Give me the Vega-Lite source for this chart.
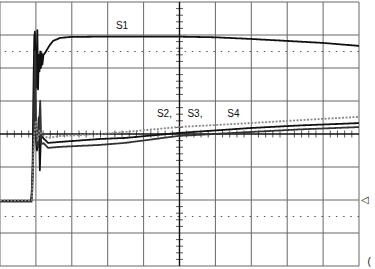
{
  "$schema": "https://vega.github.io/schema/vega-lite/v6.json",
  "width": 359,
  "height": 264,
  "autosize": {"type": "none"},
  "padding": {"left": 0, "top": 2, "right": 16, "bottom": 3},
  "background": "white",
  "view": {"stroke": null},
  "datasets": {
    "gridx": [{"v": 0}, {"v": 1}, {"v": 2}, {"v": 3}, {"v": 4}, {"v": 6}, {"v": 7}, {"v": 8}, {"v": 9}, {"v": 10}],
    "gridy": [{"v": 0}, {"v": 1}, {"v": 2}, {"v": 3}, {"v": 5}, {"v": 6}, {"v": 7}, {"v": 8}],
    "dots": [{"v": 1.5}, {"v": 6.5}],
    "ticksx": [{"v":0.2},{"v":0.4},{"v":0.6},{"v":0.8},{"v":1.2},{"v":1.4},{"v":1.6},{"v":1.8},{"v":2.2},{"v":2.4},{"v":2.6},{"v":2.8},{"v":3.2},{"v":3.4},{"v":3.6},{"v":3.8},{"v":4.2},{"v":4.4},{"v":4.6},{"v":4.8},{"v":5.2},{"v":5.4},{"v":5.6},{"v":5.8},{"v":6.2},{"v":6.4},{"v":6.6},{"v":6.8},{"v":7.2},{"v":7.4},{"v":7.6},{"v":7.8},{"v":8.2},{"v":8.4},{"v":8.6},{"v":8.8},{"v":9.2},{"v":9.4},{"v":9.6},{"v":9.8}],
    "ticksy": [{"v":0.2},{"v":0.4},{"v":0.6},{"v":0.8},{"v":1.2},{"v":1.4},{"v":1.6},{"v":1.8},{"v":2.2},{"v":2.4},{"v":2.6},{"v":2.8},{"v":3.2},{"v":3.4},{"v":3.6},{"v":3.8},{"v":4.2},{"v":4.4},{"v":4.6},{"v":4.8},{"v":5.2},{"v":5.4},{"v":5.6},{"v":5.8},{"v":6.2},{"v":6.4},{"v":6.6},{"v":6.8},{"v":7.2},{"v":7.4},{"v":7.6},{"v":7.8}],
    "traces": [
      {"s":"S1","x":0,"y":1.97},{"s":"S1","x":0.87,"y":1.97},{"s":"S1","x":0.9,"y":2.3},{"s":"S1","x":0.94,"y":6.0},{"s":"S1","x":0.97,"y":7.1},{"s":"S1","x":0.99,"y":6.2},{"s":"S1","x":1.01,"y":5.4},{"s":"S1","x":1.04,"y":7.15},{"s":"S1","x":1.06,"y":5.35},{"s":"S1","x":1.08,"y":6.4},{"s":"S1","x":1.1,"y":5.9},{"s":"S1","x":1.12,"y":6.5},{"s":"S1","x":1.14,"y":6.0},{"s":"S1","x":1.16,"y":6.45},{"s":"S1","x":1.18,"y":6.1},{"s":"S1","x":1.21,"y":6.4},{"s":"S1","x":1.25,"y":6.45},{"s":"S1","x":1.39,"y":6.7},{"s":"S1","x":1.48,"y":6.82},{"s":"S1","x":1.67,"y":6.91},{"s":"S1","x":1.95,"y":6.94},{"s":"S1","x":2.7,"y":6.95},{"s":"S1","x":5,"y":6.95},{"s":"S1","x":6,"y":6.93},{"s":"S1","x":7,"y":6.88},{"s":"S1","x":8,"y":6.82},{"s":"S1","x":9,"y":6.76},{"s":"S1","x":10,"y":6.67},
      {"s":"S2","x":0,"y":1.97},{"s":"S2","x":0.87,"y":1.97},{"s":"S2","x":0.92,"y":3.0},{"s":"S2","x":0.96,"y":7.0},{"s":"S2","x":0.99,"y":4.0},{"s":"S2","x":1.03,"y":3.5},{"s":"S2","x":1.08,"y":4.5},{"s":"S2","x":1.11,"y":2.9},{"s":"S2","x":1.14,"y":4.0},{"s":"S2","x":1.2,"y":3.88},{"s":"S2","x":1.34,"y":3.73},{"s":"S2","x":1.67,"y":3.76},{"s":"S2","x":2.79,"y":3.85},{"s":"S2","x":3.48,"y":3.88},{"s":"S2","x":4.96,"y":4.03},{"s":"S2","x":6.96,"y":4.18},{"s":"S2","x":8.36,"y":4.26},{"s":"S2","x":10,"y":4.33},
      {"s":"S3","x":0,"y":1.95},{"s":"S3","x":0.88,"y":1.95},{"s":"S3","x":0.94,"y":4.0},{"s":"S3","x":0.98,"y":6.5},{"s":"S3","x":1.01,"y":3.8},{"s":"S3","x":1.06,"y":3.6},{"s":"S3","x":1.12,"y":5.0},{"s":"S3","x":1.15,"y":3.7},{"s":"S3","x":1.22,"y":3.72},{"s":"S3","x":1.34,"y":3.58},{"s":"S3","x":1.67,"y":3.61},{"s":"S3","x":2.79,"y":3.67},{"s":"S3","x":3.48,"y":3.73},{"s":"S3","x":4.96,"y":3.94},{"s":"S3","x":6.96,"y":4.06},{"s":"S3","x":8.36,"y":4.14},{"s":"S3","x":10,"y":4.21},
      {"s":"S4","x":0,"y":1.99},{"s":"S4","x":0.89,"y":1.99},{"s":"S4","x":0.95,"y":3.9},{"s":"S4","x":1.0,"y":4.4},{"s":"S4","x":1.05,"y":3.8},{"s":"S4","x":1.1,"y":4.1},{"s":"S4","x":1.17,"y":3.97},{"s":"S4","x":1.34,"y":3.88},{"s":"S4","x":1.67,"y":3.94},{"s":"S4","x":2.79,"y":4.0},{"s":"S4","x":3.48,"y":4.06},{"s":"S4","x":4.96,"y":4.21},{"s":"S4","x":6.96,"y":4.33},{"s":"S4","x":8.36,"y":4.42},{"s":"S4","x":10,"y":4.52}
    ],
    "labels": [
      {"t":"S1","x":3.4,"y":7.27},
      {"t":"S2,","x":4.58,"y":4.62},
      {"t":"S3,","x":5.43,"y":4.62},
      {"t":"S4","x":6.5,"y":4.62},
      {"t":"◁","x":10.17,"y":2.0},
      {"t":"(","x":10.28,"y":0.12}
    ]
  },
  "layer": [
    {
      "data": {"name": "gridx"},
      "mark": {"type": "rule", "color": "#666", "strokeWidth": 1},
      "encoding": {"x": {"field": "v", "type": "quantitative", "scale": {"domain": [0, 10], "nice": false, "zero": false}, "axis": null}}
    },
    {
      "data": {"name": "gridy"},
      "mark": {"type": "rule", "color": "#666", "strokeWidth": 1},
      "encoding": {"y": {"field": "v", "type": "quantitative", "scale": {"domain": [0, 8], "nice": false, "zero": false}, "axis": null}}
    },
    {
      "data": {"name": "dots"},
      "mark": {"type": "rule", "color": "#555", "strokeWidth": 1, "strokeDash": [1.5, 5.7]},
      "encoding": {"y": {"field": "v", "type": "quantitative", "scale": {"domain": [0, 8], "nice": false, "zero": false}, "axis": null}}
    },
    {
      "data": {"values": [{"v": 5}]},
      "mark": {"type": "rule", "color": "#111", "strokeWidth": 1.4},
      "encoding": {"x": {"field": "v", "type": "quantitative", "scale": {"domain": [0, 10], "nice": false, "zero": false}, "axis": null}}
    },
    {
      "data": {"values": [{"v": 4}]},
      "mark": {"type": "rule", "color": "#111", "strokeWidth": 1.4},
      "encoding": {"y": {"field": "v", "type": "quantitative", "scale": {"domain": [0, 8], "nice": false, "zero": false}, "axis": null}}
    },
    {
      "data": {"name": "ticksx"},
      "mark": {"type": "tick", "orient": "vertical", "color": "#111", "size": 7, "thickness": 1},
      "encoding": {
        "x": {"field": "v", "type": "quantitative", "scale": {"domain": [0, 10], "nice": false, "zero": false}, "axis": null},
        "y": {"datum": 4, "type": "quantitative", "scale": {"domain": [0, 8], "nice": false, "zero": false}, "axis": null}
      }
    },
    {
      "data": {"name": "ticksy"},
      "mark": {"type": "tick", "orient": "horizontal", "color": "#111", "size": 7, "thickness": 1},
      "encoding": {
        "y": {"field": "v", "type": "quantitative", "scale": {"domain": [0, 8], "nice": false, "zero": false}, "axis": null},
        "x": {"datum": 5, "type": "quantitative", "scale": {"domain": [0, 10], "nice": false, "zero": false}, "axis": null}
      }
    },
    {
      "data": {"name": "traces"},
      "mark": {"type": "line", "strokeJoin": "round", "interpolate": "linear"},
      "encoding": {
        "x": {"field": "x", "type": "quantitative", "scale": {"domain": [0, 10], "nice": false, "zero": false}, "axis": null},
        "y": {"field": "y", "type": "quantitative", "scale": {"domain": [0, 8], "nice": false, "zero": false}, "axis": null},
        "detail": {"field": "s"},
        "color": {"field": "s", "type": "nominal", "scale": {"domain": ["S1", "S2", "S3", "S4"], "range": ["#111", "#111", "#333", "#888"]}, "legend": null},
        "strokeWidth": {"field": "s", "type": "nominal", "scale": {"domain": ["S1", "S2", "S3", "S4"], "range": [1.8, 1.8, 1.0, 1.0]}, "legend": null},
        "strokeDash": {"field": "s", "type": "nominal", "scale": {"domain": ["S1", "S2", "S3", "S4"], "range": [[1, 0], [1, 0], [1, 0], [2, 1.5]]}, "legend": null}
      }
    },
    {
      "data": {"name": "labels"},
      "mark": {"type": "text", "font": "Liberation Sans", "fontSize": 10, "color": "#111", "align": "center", "baseline": "middle"},
      "encoding": {
        "x": {"field": "x", "type": "quantitative", "scale": {"domain": [0, 10], "nice": false, "zero": false}, "axis": null},
        "y": {"field": "y", "type": "quantitative", "scale": {"domain": [0, 8], "nice": false, "zero": false}, "axis": null},
        "text": {"field": "t"}
      }
    }
  ]
}
